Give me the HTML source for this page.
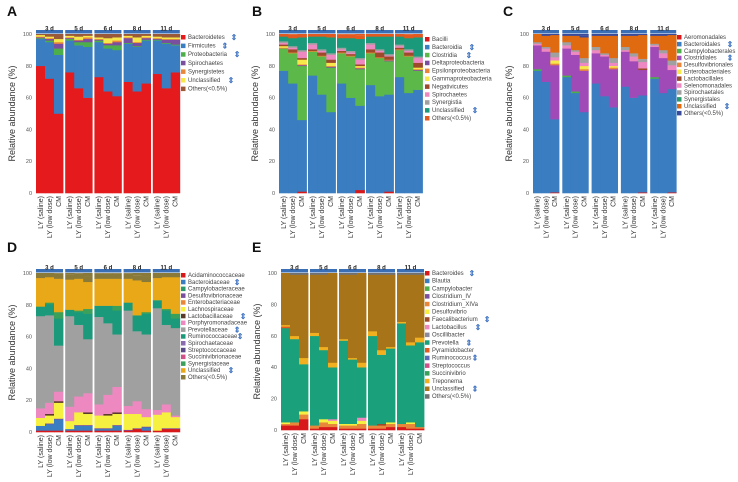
<!DOCTYPE html>
<html><head><meta charset="utf-8"><style>
html,body{margin:0;padding:0;background:#fff;}
svg{display:block;font-family:"Liberation Sans",sans-serif;}
</style></head><body>
<svg id="fig" width="738" height="482" viewBox="0 0 738 482" xmlns="http://www.w3.org/2000/svg"></svg>
<script>
// ---------- shared data ----------
const groups = ["3 d","5 d","6 d","8 d","11 d"];
const samples = ["LY (saline)","LY (low dose)","CM"];
const yTicks = [0,20,40,60,80,100];

// ---------- Panel A (phylum) ----------
const namesA = ["Bacteroidetes","Firmicutes","Proteobacteria","Spirochaetes","Synergistetes","Unclassified","Others(<0.5%)"];
const arrowsA = [1,1,1,0,0,1,0];
const colorsA = ["#e41a1c","#3a7dc0","#4daf4a","#7b4fa0","#e8873a","#f6e84a","#9a5a3a"];
const seriesA = [
 [80,72,50, 76,66,60, 73,64,61, 70,64,69, 75,66,76],
 [17,23,37, 20,27,32, 22,27,29, 24,28,27, 21,28,17],
 [0.5,1,4, 1,2,3, 1,2,3, 0.5,0.5,0.5, 0.5,0.5,0.5],
 [0.5,1,3, 0.5,1,2, 0.5,1,2, 3,2,1, 0.5,2,3],
 [0.5,0.5,1, 0.5,0.5,1, 0.5,0.5,1, 0.5,0.5,0.5, 0.5,0.5,0.5],
 [1,1,2, 1,2,1, 1,3,2, 1,3,1, 1,1,1],
 [1,2,3, 1,2,2, 2,3,3, 1,2,2, 2,3,3]
];

// ---------- Panel B (class) ----------
const namesB = ["Bacilli","Bacteroidia","Clostridia","Deltaproteobacteria","Epsilonproteobacteria","Gammaproteobacteria","Negativicutes","Spirochaetes","Synergistia","Unclassified","Others(<0.5%)"];
const arrowsB = [0,1,1,0,0,0,0,0,0,1,0];
const colorsB = ["#d7191c","#3a7dc0","#5cb848","#7b4fa0","#e8873a","#f6e84a","#9c4a2a","#ee88c0","#a0a0a0","#1a9a7a","#e25a20"];
const seriesB = [
 [0,0,1, 0,0,0, 0,0,2, 0,0,1, 0,0,0],
 [77,69,45, 74,62,51, 69,60,53, 68,61,61, 73,63,65],
 [14,19,34, 15,24,28, 19,26,23, 20,24,21, 17,23,12],
 [0,0,0.5, 0,0,0.5, 0,0,0.5, 0,0,0.5, 0,0,0.5],
 [0.5,0.5,0.5, 0.5,0.5,0.5, 0.5,0.5,0.5, 0.5,0.5,0.5, 0.5,0.5,0.5],
 [1,0,3, 0,0,2, 0,0,1, 0,0,0, 0,0,1],
 [1,2,1, 1,2,2, 1,1,1, 2,3,2, 1,2,3],
 [1,1,4, 3,1,3, 1,1,3, 3,1,0.5, 1,1,3],
 [1,1,1, 1,1,1, 1,1,1, 1,1,1, 1,1,1],
 [3,5,8, 4,8,10, 6,8,12, 4,8,11, 5,7,12],
 [2,2,2, 2,2,2, 2,2,2, 2,2,2, 2,2,2]
];

// ---------- Panel C (order) ----------
const namesC = ["Aeromonadales","Bacteroidales","Campylobacterales","Clostridiales","Desulfovibrionales","Enterobacteriales","Lactobacillales","Selenomonadales","Spirochaetales","Synergistales","Unclassified","Others(<0.5%)"];
const arrowsC = [0,1,0,1,0,0,0,0,0,0,1,0];
const colorsC = ["#d7191c","#3a7dc0","#4daf4a","#a04ab8","#e8873a","#f6e84a","#9c4a2a","#ee88c0","#a0a0a0","#2a9a6a","#e06a10","#3a4a9a"];
const seriesC = [
 [0,0,0.5, 0,0,0, 0,0,0, 0,0,0.5, 0,0,0.5],
 [77,70,46, 73,63,51, 69,61,54, 67,60,61, 72,63,65],
 [1,0,0, 1,1,0, 0,0,0, 0,0,0, 1,0,0],
 [15,19,34, 17,23,26, 19,25,24, 22,23,16, 19,22,12],
 [0,0,1, 0,0,1, 0,0,1, 0,0,0, 0,0,0],
 [0,0,2, 0,0,2, 0,0,1, 0,0,0, 0,0,0],
 [0,0,0, 0,0,0, 0,0,0, 0,0,1, 0,0,0],
 [1,2,2, 2,2,2, 2,1,2, 1,3,4, 1,3,3],
 [1,1,3, 2,1,3, 2,1,3, 2,2,2, 1,2,3],
 [0,0,0, 0,0,0, 0,0,0, 0,0,0, 0,0,0],
 [5,7,11, 4,9,13, 7,11,14, 7,11,15, 5,9,16],
 [1,1,1, 1,1,1, 1,1,1, 1,1,1, 1,1,1]
];

// ---------- Panel D (family) ----------
const namesD = ["Acidaminococcaceae","Bacteroidaceae","Campylobacteraceae","Desulfovibrionaceae","Enterobacteriaceae","Lachnospiraceae","Lactobacillaceae","Porphyromonadaceae","Prevotellaceae","Ruminococcaceae","Spirochaetaceae","Streptococcaceae","Succinivibrionaceae","Synergistaceae","Unclassified","Others(<0.5%)"];
const arrowsD = [0,1,0,0,0,0,1,0,1,1,0,0,0,0,1,0];
const colorsD = ["#d7191c","#3a7dc0","#2a9a6a","#7b4fa0","#e8873a","#f6f040","#5a3a2a","#ee88c0","#a0a0a0","#1a9a7a","#8a6ab0","#5a4a8a","#d0508a","#3aa05a","#e8a818","#8a7a3a"];
const seriesD = [
 [1,1,1, 1,1,1, 1,1,1, 1,2,1, 1,2,2],
 [3,4,7, 1,3,3, 1,1,3, 0,0,2, 0,0,0],
 [0,0,0, 0,0,0, 0,0,0, 0,0,0, 0,0,0],
 [0,0.5,0.5, 0,0.5,0.5, 0.5,0.5,0.5, 0.5,0.5,0.5, 0,0.5,0.5],
 [0,0,0, 0,0,0, 0,0,0, 0,0,0, 0,0,0],
 [5,5,10, 5,8,7, 8,8,7, 10,9,6, 10,10,7],
 [0,1,1, 0,0,1, 0,1,1, 0,0,0, 0,0,0],
 [6,7,6, 9,10,12, 7,12,16, 5,8,5, 3,5,1],
 [58,55,29, 57,45,34, 55,45,33, 60,44,47, 64,50,55],
 [6,7,17, 4,8,16, 7,11,15, 5,10,13, 5,9,6],
 [0,0,0, 0,0,0, 0,0,0, 0,0,0, 0,0,0],
 [0,0,0, 0,0,0, 0,0,0, 0,0,0, 0,0,0],
 [0,0,0, 0,0,0, 0,0,0, 0,0,0, 0,0,0],
 [0,1,4, 0,1,3, 0,0,3, 0,0,1, 0,1,3],
 [18,16,21, 19,20,17, 17,17,17, 15,22,19, 14,20,23],
 [3,3,3, 3,3,3, 3,3,3, 3,3,3, 3,3,3]
];

// ---------- Panel E (genus) ----------
const namesE = ["Bacteroides","Blautia","Campylobacter","Clostridium_IV","Clostridium_XIVa","Desulfovibrio","Faecalibacterium","Lactobacillus","Oscillibacter","Prevotella","Pyramidobacter","Ruminococcus","Streptococcus","Succinivibrio","Treponema","Unclassified","Others(<0.5%)"];
const arrowsE = [1,0,0,0,0,0,1,1,0,1,0,1,0,0,0,1,0];
const colorsE = ["#d7191c","#3a7dc0","#4daf4a","#7b4fa0","#e8873a","#f6f040","#9c4a2a","#ee88c0","#8a8aa0","#1aa07a","#e25a20","#5a6ab8","#d0508a","#3aa05a","#f0b020","#a8741a","#707070"];
const seriesE = [
 [3,3,7, 1,2,2, 1,1,1, 1,1,2, 2,1,1],
 [0,0,0, 0,0,0, 0,0,0, 0,0,0, 0,0,0],
 [0,0,0, 0,0,0, 0,0,0, 0,0,0, 0,0,0],
 [0,0,0, 0,0,0, 0,0,0, 0,0,0, 0,0,0],
 [1,2,3, 2,3,2, 2,2,3, 2,2,2, 2,3,1],
 [1,0,2, 0,2,2, 1,1,2, 0,0,1, 0,1,0],
 [0,0,0, 0,0,0, 0,0,0, 0,1,0, 0,0,0],
 [0,0,0, 0,0,1, 0,0,2, 0,0,0, 0,0,0],
 [0,0,0, 0,0,0, 0,0,0, 0,0,0, 0,0,0],
 [60,53,30, 57,44,33, 53,41,32, 57,44,47, 64,49,54],
 [1,0,0, 0,0,0, 0,0,0, 0,0,0, 0,0,0],
 [0,0,0, 0,0,0, 0,0,0, 0,0,0, 0,0,0],
 [0,0,0, 0,0,0, 0,0,0, 0,0,0, 0,0,0],
 [0,0,0, 0,0,0, 0,0,0, 0,0,0, 0,0,0],
 [1,2,4, 2,2,3, 1,1,3, 3,3,1, 1,2,3],
 [33,39,53, 37,46,58, 41,53,58, 36,48,46, 30,43,40],
 [1,1,1, 1,1,1, 1,1,1, 1,1,1, 1,1,1]
];

// ---------- drawing ----------
const NS = "http://www.w3.org/2000/svg";
const svg = document.getElementById("fig");
function mk(tag, attrs, parent){
  const e = document.createElementNS(NS, tag);
  for (const k in attrs) e.setAttribute(k, attrs[k]);
  (parent||svg).appendChild(e);
  return e;
}

function drawPanel(p){
  const g = mk("g", {});
  
  
  const yScale = v => p.y0 - v/100*(p.y0 - p.y100);
  const barW = p.gw/3;
  const xScale = (gi, si) => p.left + gi*p.pitch + si*barW;

  const lab = mk("text", {x:p.lx, y:p.ly, "font-size":14, "font-weight":"bold", fill:"#111"}, g);
  lab.textContent = p.id;
  
  

  const yt = mk("text", {x:0, y:0, "font-size":9, fill:"#333", "text-anchor":"middle",
    transform:`translate(${p.left-21},${(p.y0+p.y100)/2}) rotate(-90)`}, g);
  yt.textContent = "Relative abundance (%)";
  
  

  yTicks.forEach(t=>{
    const tx = mk("text", {x:p.left-4, y:yScale(t)+2, "font-size":5.5, fill:"#555", "text-anchor":"end"}, g);
    tx.textContent = t;
    
    
  });

  groups.forEach((gn, gi)=>{
    samples.forEach((sn, si)=>{
      const idx = gi*3+si;
      let cum = 0;
      p.series.forEach((ser, k)=>{
        const v = ser[idx];
        if (!v) return;
        const lo = Math.min(cum,100), hi = Math.min(cum+v,100);
        cum += v;
        if (hi<=lo) return;
        const r = mk("rect", {x:xScale(gi,si), y:yScale(hi), width:barW+0.4, height:yScale(lo)-yScale(hi)+0.3, fill:p.colors[k]}, g);
        
        
      });
      if (cum < 100){
        const r = mk("rect", {x:xScale(gi,si), y:yScale(100), width:barW+0.4, height:yScale(cum)-yScale(100), fill:p.colors[p.colors.length-1]}, g);
        
        
      }
      const xl = mk("text", {x:0, y:0, "font-size":7, fill:"#333", "text-anchor":"end",
        transform:`translate(${xScale(gi,si)+barW/2+2.3},${p.y0+3}) rotate(-90)`}, g);
      xl.textContent = sn;
      
      
    });
    const hx = xScale(gi,0);
    const hs = mk("rect", {x:hx, y:p.y100-4, width:p.gw, height:3.5, fill:"#3a6fb5"}, g);
    
    
    const ht = mk("text", {x:hx+p.gw/2, y:p.y100-3.5, "font-size":6, "font-weight":"bold", fill:"#222", "text-anchor":"middle"}, g);
    ht.textContent = gn;
    
    
  });

  p.names.forEach((n, k)=>{
    const yy = p.legY + k*p.legStep;
    const sq = mk("rect", {x:p.legX, y:yy-4, width:4.5, height:4.5, fill:p.colors[k]}, g);
    
    
    const t = mk("text", {x:p.legX+7, y:yy, "font-size":6, fill:"#444"}, g);
    t.textContent = n;
    
    
    if (p.arrows[k]){
      const ax = p.legX + 10 + n.length*3.05;
      const a = mk("text", {x:ax, y:yy+1, "font-size":8, fill:"#3a6fc0", "font-weight":"bold"}, g);
      a.textContent = "⇕";
      
      
    }
  });
}

drawPanel({id:"A", lx:7, ly:16, left:36, pitch:29.2, gw:27, y100:34, y0:193, legX:181, legY:39, legStep:8.6, names:namesA, colors:colorsA, series:seriesA, arrows:arrowsA});
drawPanel({id:"B", lx:252, ly:16, left:279, pitch:29, gw:27.5, y100:34, y0:193, legX:425, legY:41, legStep:7.9, names:namesB, colors:colorsB, series:seriesB, arrows:arrowsB});
drawPanel({id:"C", lx:503, ly:16, left:533, pitch:29.3, gw:26, y100:34, y0:193, legX:677, legY:39, legStep:6.9, names:namesC, colors:colorsC, series:seriesC, arrows:arrowsC});
drawPanel({id:"D", lx:7, ly:252, left:36, pitch:29.2, gw:27, y100:273, y0:432, legX:181, legY:277, legStep:6.8, names:namesD, colors:colorsD, series:seriesD, arrows:arrowsD});
drawPanel({id:"E", lx:252, ly:252, left:281, pitch:29, gw:27, y100:273, y0:430, legX:425, legY:275, legStep:7.7, names:namesE, colors:colorsE, series:seriesE, arrows:arrowsE});
</script>
</body></html>
